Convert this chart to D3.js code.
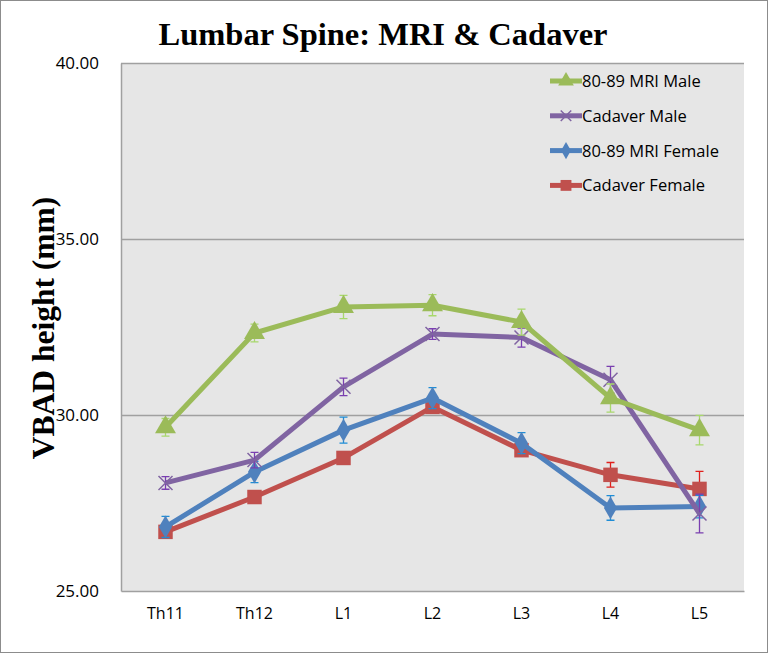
<!DOCTYPE html>
<html>
<head>
<meta charset="utf-8">
<script src="https://cdn.jsdelivr.net/npm/d3@7"></script>
<style>
  body { margin: 0; background: #fff; }
  svg { display: block; }
</style>
</head>
<body>
<div id="the_chart"></div>
<script>
var levels = ["Th11", "Th12", "L1", "L2", "L3", "L4", "L5"];
var yTicks = [25, 30, 35, 40];

var mriMale = [29.65, 32.33, 33.07, 33.12, 32.64, 30.48, 29.57];
var mriMaleErr = [0.25, 0.25, 0.33, 0.3, 0.37, 0.4, 0.42];
var cadMale = [28.07, 28.72, 30.8, 32.3, 32.2, 31.0, 27.2];
var cadMaleErr = [0.18, 0.22, 0.25, 0.15, 0.27, 0.38, 0.55];
var mriFemale = [26.82, 28.38, 29.57, 30.48, 29.2, 27.36, 27.4];
var mriFemaleErr = [0.3, 0.3, 0.37, 0.3, 0.3, 0.35, 0.32];
var cadFemale = [26.68, 27.67, 28.78, 30.23, 29.0, 28.3, 27.9];
var cadFemaleErr = [0.1, 0.12, 0.12, 0.1, 0.1, 0.35, 0.5];

var series = [
    { name: "80-89 MRI Male", values: mriMale, err: mriMaleErr, color: "#9bbb59", errColor: "#a8d86c", symbol: d3.symbolTriangle, size: 190 },
    { name: "Cadaver Male", values: cadMale, err: cadMaleErr, color: "#8064a2", errColor: "#7a3fb0", symbol: "x", size: 7 },
    { name: "80-89 MRI Female", values: mriFemale, err: mriFemaleErr, color: "#4f81bd", errColor: "#1f8dd6", symbol: d3.symbolDiamond, size: 150 },
    { name: "Cadaver Female", values: cadFemale, err: cadFemaleErr, color: "#c0504d", errColor: "#e0201c", symbol: d3.symbolSquare, size: 210 }
];

var w = 768, h = 653;
var pLeft = 121, pRight = 744, pTop = 63, pBottom = 591;

var svg = d3.select("#the_chart").append("svg")
    .attr("width", w)
    .attr("height", h);

svg.append("rect")
    .attr("x", 0.5).attr("y", 0.5)
    .attr("width", w - 1).attr("height", h - 1)
    .attr("fill", "#fff")
    .attr("stroke", "#8c8c8c");

var xscale = d3.scaleBand()
    .domain(levels)
    .range([pLeft, pRight]);

var yscale = d3.scaleLinear()
    .domain([25, 40])
    .range([pBottom, pTop]);

svg.append("rect")
    .attr("x", pLeft).attr("y", pTop)
    .attr("width", pRight - pLeft).attr("height", pBottom - pTop)
    .attr("fill", "#e6e6e6");

// gridlines
svg.selectAll("line.grid")
    .data(yTicks.slice(1))
    .enter().append("line")
    .attr("class", "grid")
    .attr("x1", pLeft).attr("x2", pRight)
    .attr("y1", function (d) { return yscale(d) + 0.5; })
    .attr("y2", function (d) { return yscale(d) + 0.5; })
    .attr("stroke", "#a0a0a0")
    .attr("stroke-width", 1.3);

var yaxis = d3.axisLeft(yscale)
    .tickValues(yTicks)
    .tickFormat(d3.format(".2f"))
    .tickSize(0)
    .tickPadding(22);

var gY = svg.append("g")
    .attr("transform", "translate(" + pLeft + ",0)")
    .call(yaxis);
gY.select(".domain").attr("stroke", "#a0a0a0").attr("stroke-width", 1.5);
gY.selectAll("text")
    .attr("font-family", "'Open Sans', sans-serif")
    .attr("font-size", 17)
    .attr("fill", "#000");

var xaxis = d3.axisBottom(xscale)
    .tickSize(0)
    .tickPadding(17);

var gX = svg.append("g")
    .attr("transform", "translate(0," + pBottom + ")")
    .call(xaxis);
gX.select(".domain").attr("stroke", "#a0a0a0").attr("stroke-width", 1.5);
gX.selectAll("text")
    .attr("font-family", "'Open Sans', sans-serif")
    .attr("font-size", 16)
    .attr("fill", "#000");

function cx(i) {
    return xscale(levels[i]) + xscale.bandwidth() / 2;
}

var line = d3.line()
    .x(function (d, i) { return cx(i); })
    .y(function (d) { return yscale(d); });

function drawMarker(g, s, x, y, k) {
    if (s.symbol === "x") {
        var r = s.size * k;
        g.append("path")
            .attr("d", "M" + (x - r) + "," + (y - r) + "L" + (x + r) + "," + (y + r) +
                "M" + (x - r) + "," + (y + r) + "L" + (x + r) + "," + (y - r))
            .attr("stroke", s.color)
            .attr("stroke-width", 1.5)
            .attr("fill", "none");
    } else {
        g.append("path")
            .attr("d", d3.symbol().type(s.symbol).size(s.size * k * k)())
            .attr("transform", "translate(" + x + "," + y + ")")
            .attr("fill", s.color);
    }
}

// draw series bottom to top (legend order lists the top one first)
series.slice().reverse().forEach(function (s) {
    var g = svg.append("g");
    g.append("path")
        .datum(s.values)
        .attr("d", line)
        .attr("fill", "none")
        .attr("stroke", s.color)
        .attr("stroke-width", 5)
        .attr("stroke-linejoin", "round");

    s.values.forEach(function (v, i) {
        var x = cx(i);
        var y1 = yscale(v + s.err[i]), y2 = yscale(v - s.err[i]);
        g.append("path")
            .attr("d", "M" + x + "," + y1 + "V" + y2 +
                "M" + (x - 4) + "," + y1 + "H" + (x + 4) +
                "M" + (x - 4) + "," + y2 + "H" + (x + 4))
            .attr("stroke", s.errColor)
            .attr("stroke-width", 1.3)
            .attr("fill", "none");
        drawMarker(g, s, x, yscale(v), 1);
    });
});

// legend
var legend = svg.append("g");
series.forEach(function (s, i) {
    var ly = 81 + i * 34.8;
    legend.append("line")
        .attr("x1", 550).attr("x2", 582)
        .attr("y1", ly).attr("y2", ly)
        .attr("stroke", s.color)
        .attr("stroke-width", 5);
    drawMarker(legend, s, 566, ly, 0.75);
    legend.append("text")
        .attr("x", 582).attr("y", ly + 6)
        .attr("font-family", "'Open Sans', sans-serif")
        .attr("font-size", 16.5)
        .attr("fill", "#000")
        .text(s.name);
});

svg.append("text")
    .attr("x", 383).attr("y", 45)
    .attr("text-anchor", "middle")
    .attr("font-family", "'Liberation Serif', serif")
    .attr("font-weight", "bold")
    .attr("font-size", 32.5)
    .text("Lumbar Spine: MRI & Cadaver");

svg.append("text")
    .attr("transform", "translate(54,328) rotate(-90)")
    .attr("text-anchor", "middle")
    .attr("font-family", "'Liberation Serif', serif")
    .attr("font-weight", "bold")
    .attr("font-size", 31.5)
    .text("VBAD height (mm)");
</script>
</body>
</html>
